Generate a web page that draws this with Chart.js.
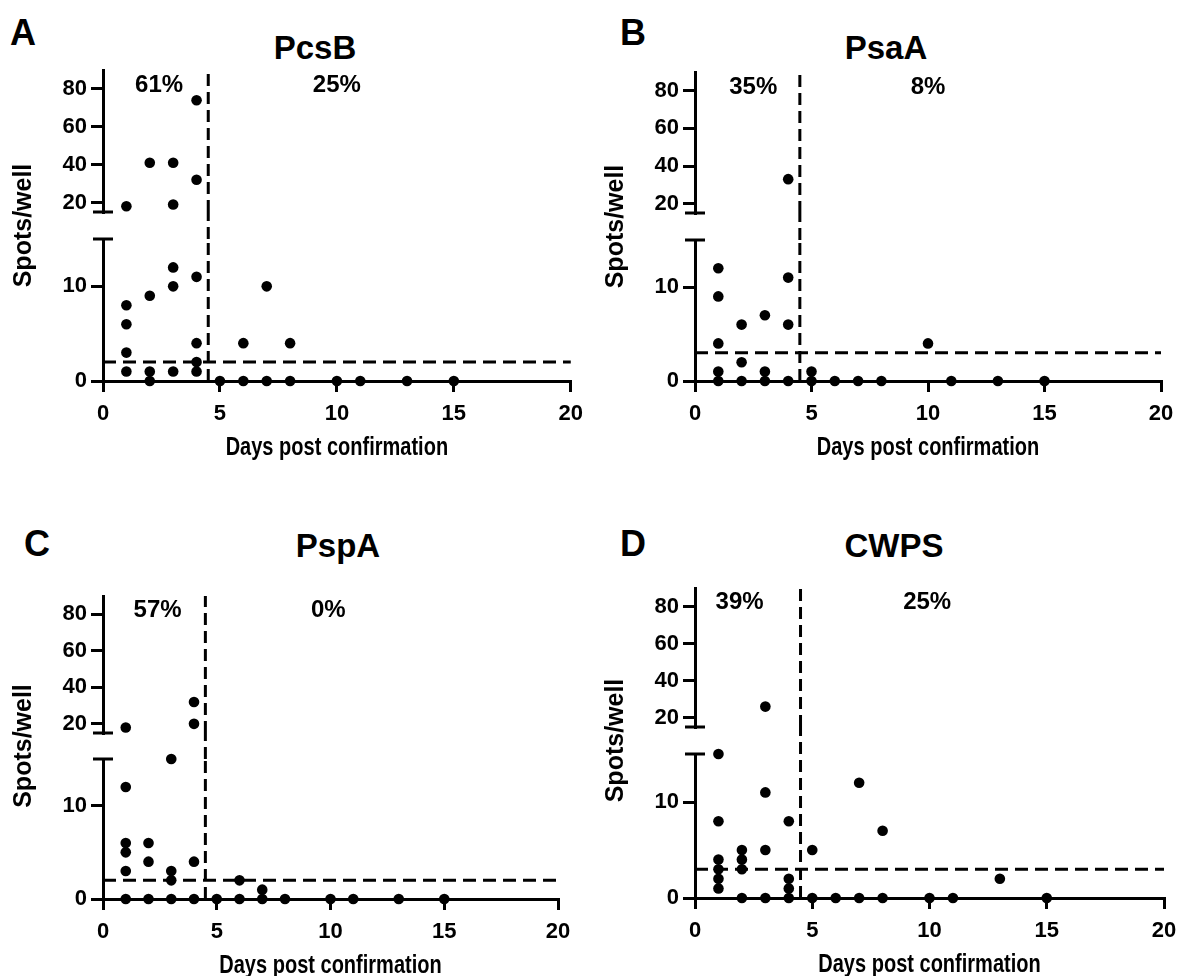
<!DOCTYPE html>
<html>
<head>
<meta charset="utf-8">
<script src="https://cdn.jsdelivr.net/npm/chart.js@4.4.1/dist/chart.umd.min.js"></script>
<style>
  html, body { margin: 0; padding: 0; background: #fff; overflow: hidden; }
  body { width: 1189px; height: 976px; position: relative; font-family: Arial, "Liberation Sans", sans-serif; }
  canvas { position: absolute; }
  .lbl { position: absolute; font-weight: bold; line-height: 1; white-space: nowrap; transform: translate(-50%, -50%); color: #000; }
</style>
</head>
<body>
<script>
// ---- data ----
const panelLetters = ['A', 'B', 'C', 'D'];
const panelTitles = ['PcsB', 'PsaA', 'PspA', 'CWPS'];
const xTitle = 'Days post confirmation';
const yTitle = 'Spots/well';

const xTicks = [0, 5, 10, 15, 20];
const lowTicks = [0, 10];
const highTicks = [20, 40, 60, 80];

const pcsbDays  = [1, 1, 1, 1, 1, 2, 2, 2, 2, 3, 3, 3, 3, 3, 4, 4, 4, 4, 4, 4, 5, 6, 6, 7, 7, 8, 8, 10, 11, 13, 15];
const pcsbSpots = [18, 8, 6, 3, 1, 41, 9, 1, 0, 41, 19, 12, 10, 1, 74, 32, 11, 4, 2, 1, 0, 4, 0, 10, 0, 4, 0, 0, 0, 0, 0];

const psaaDays  = [1, 1, 1, 1, 1, 2, 2, 2, 3, 3, 3, 4, 4, 4, 4, 5, 5, 6, 7, 8, 10, 11, 13, 15];
const psaaSpots = [12, 9, 4, 1, 0, 6, 2, 0, 7, 1, 0, 33, 11, 6, 0, 1, 0, 0, 0, 0, 4, 0, 0, 0];

const pspaDays  = [1, 1, 1, 1, 1, 1, 2, 2, 2, 3, 3, 3, 3, 4, 4, 4, 4, 5, 6, 6, 7, 7, 8, 10, 11, 13, 15];
const pspaSpots = [18, 12, 6, 5, 3, 0, 6, 4, 0, 15, 3, 2, 0, 32, 20, 4, 0, 0, 2, 0, 1, 0, 0, 0, 0, 0, 0];

const cwpsDays  = [1, 1, 1, 1, 1, 1, 2, 2, 2, 2, 3, 3, 3, 3, 4, 4, 4, 4, 5, 5, 6, 7, 7, 8, 8, 10, 11, 13, 15];
const cwpsSpots = [15, 8, 4, 3, 2, 1, 5, 4, 3, 0, 26, 11, 5, 0, 8, 2, 1, 0, 5, 0, 0, 12, 0, 7, 0, 0, 0, 2, 0];

const cutoffs = [2, 3, 2, 3];
const splitDay = 4.5;
const pctEarly = ['61%', '35%', '57%', '39%'];
const pctLate = ['25%', '8%', '0%', '25%'];

const allDays = [pcsbDays, psaaDays, pspaDays, cwpsDays];
const allSpots = [pcsbSpots, psaaSpots, pspaSpots, cwpsSpots];

// axis break: lower segment 0-15, upper 15-90
const lowMax = 15, highMax = 90;

// ---- layout (pixels) ----
const FONT = 'Arial, "Liberation Sans", sans-serif';
const layouts = [
  { cv: [0, 0, 592, 488],     plot: [103, 572, 70, 381],  seg: [142, 27, 142], letter: [23, 33],  title: [315, 47],  pctX: [2.4, 10] },
  { cv: [592, 0, 597, 488],   plot: [695, 1161, 72, 381], seg: [141, 27, 141], letter: [633, 33], title: [886, 47],  pctX: [2.5, 10] },
  { cv: [0, 488, 592, 500],   plot: [103, 558, 596, 899], seg: [137, 26, 140], letter: [37, 544], title: [338, 545], pctX: [2.4, 9.9] },
  { cv: [592, 488, 597, 500], plot: [695, 1164, 588, 898], seg: [139, 27, 144], letter: [633, 544], title: [894, 545], pctX: [1.9, 9.9] }
];
const xAxisH = 81;

function addText(txt, pos, size) {
  const d = document.createElement('div');
  d.className = 'lbl';
  d.textContent = txt;
  d.style.left = pos[0] + 'px';
  d.style.top = pos[1] + 'px';
  d.style.fontSize = size + 'px';
  document.body.appendChild(d);
}

const breakPlugin = {
  id: 'breakCaps',
  afterDraw(chart, args, opts) {
    const ctx = chart.ctx;
    const lo = chart.scales.yLow, hi = chart.scales.yHigh, x = chart.scales.x;
    const ax = lo.right;
    ctx.save();
    ctx.strokeStyle = '#000';
    ctx.lineWidth = 3;
    [lo.top, hi.bottom].forEach(y => {
      ctx.beginPath();
      ctx.moveTo(ax - 10, y);
      ctx.lineTo(ax + 10, y);
      ctx.stroke();
    });
    ctx.fillStyle = '#000';
    ctx.font = 'bold 24px ' + FONT;
    ctx.textAlign = 'center';
    ctx.textBaseline = 'middle';
    opts.labels.forEach(l => ctx.fillText(l.text, x.getPixelForValue(l.x), hi.getPixelForValue(l.y)));
    // x axis title, condensed like the original figure
    ctx.translate((x.left + x.right) / 2, x.bottom - 14);
    ctx.scale(0.77, 1);
    ctx.font = 'bold 26px ' + FONT;
    ctx.fillText(xTitle, 0, 0);
    ctx.restore();
  }
};

function makePanel(i) {
  const L = layouts[i];
  const [cl, ct, cw, ch] = L.cv;
  const [pl, pr, pt, pb] = L.plot;

  addText(panelLetters[i], L.letter, 36);
  addText(panelTitles[i], L.title, 33);

  const cv = document.createElement('canvas');
  cv.width = cw; cv.height = ch;
  cv.style.left = cl + 'px'; cv.style.top = ct + 'px';
  cv.style.width = cw + 'px'; cv.style.height = ch + 'px';
  document.body.appendChild(cv);

  const low = [], high = [];
  allDays[i].forEach((d, k) => {
    const v = allSpots[i][k];
    (v > lowMax ? high : low).push({ x: d, y: v });
  });

  const dots = { backgroundColor: '#000', borderColor: '#000', pointRadius: 5.3, borderWidth: 0, showLine: false, clip: false };
  const dash = (data, axis, pattern) => ({
    data: data, yAxisID: axis, showLine: true, borderColor: '#000', borderWidth: 3,
    borderDash: pattern, pointRadius: 0, fill: false, clip: false
  });

  const tickFont = { family: FONT, size: 22, weight: 'bold' };
  const tickGrid = { display: true, drawOnChartArea: false, drawTicks: true, tickLength: 12, tickWidth: 3, tickColor: '#000', color: '#000', lineWidth: 3 };
  const border = { display: true, width: 3, color: '#000' };
  const yTickOpts = { color: '#000', font: tickFont, padding: 4, autoSkip: false };
  const yW = pl - cl;

  new Chart(cv, {
    type: 'scatter',
    data: {
      datasets: [
        dash([{ x: 0, y: cutoffs[i] }, { x: 20, y: cutoffs[i] }], 'yLow', [13, 7]),
        dash([{ x: splitDay, y: lowMax }, { x: splitDay, y: highMax }], 'yHigh', [12, 6]),
        dash([{ x: splitDay, y: 0 }, { x: splitDay, y: 1 }], 'yGap', [12, 6]),
        dash([{ x: splitDay, y: 0 }, { x: splitDay, y: lowMax }], 'yLow', [12, 6]),
        Object.assign({ data: low, yAxisID: 'yLow' }, dots),
        Object.assign({ data: high, yAxisID: 'yHigh' }, dots)
      ]
    },
    options: {
      responsive: false,
      animation: false,
      events: [],
      devicePixelRatio: 1,
      layout: { padding: { left: 0, top: pt - ct, right: cl + cw - pr, bottom: ct + ch - pb - xAxisH } },
      plugins: {
        legend: { display: false },
        tooltip: { enabled: false },
        breakCaps: { labels: [ { text: pctEarly[i], x: L.pctX[0], y: 82 }, { text: pctLate[i], x: L.pctX[1], y: 82 } ] }
      },
      scales: {
        x: {
          type: 'linear', position: 'bottom', min: 0, max: 20,
          afterBuildTicks: s => { s.ticks = xTicks.map(v => ({ value: v })); },
          afterFit: s => { s.height = xAxisH; },
          border: border,
          grid: Object.assign({}, tickGrid, { tickLength: 11 }),
          ticks: { color: '#000', font: tickFont, padding: 9, maxRotation: 0, autoSkip: false },
          title: { display: false }
        },
        // listed bottom-up: the layout places the last stacked scale on top
        yLow: {
          type: 'linear', position: 'left', stack: 'y', stackWeight: L.seg[2], min: 0, max: lowMax,
          afterBuildTicks: s => { s.ticks = lowTicks.map(v => ({ value: v })); },
          afterFit: s => { s.width = yW; },
          border: border, grid: tickGrid, ticks: yTickOpts
        },
        yGap: {
          type: 'linear', position: 'left', stack: 'y', stackWeight: L.seg[1], min: 0, max: 1,
          afterFit: s => { s.width = yW; },
          border: { display: false }, grid: { display: false }, ticks: { display: false },
          title: { display: true, text: yTitle, color: '#000', font: { family: FONT, size: 25, weight: 'bold' }, padding: { top: 9, bottom: 0 } }
        },
        yHigh: {
          type: 'linear', position: 'left', stack: 'y', stackWeight: L.seg[0], min: lowMax, max: highMax,
          afterBuildTicks: s => { s.ticks = highTicks.map(v => ({ value: v })); },
          afterFit: s => { s.width = yW; },
          border: border, grid: tickGrid, ticks: yTickOpts
        }
      }
    },
    plugins: [breakPlugin]
  });
}

for (let i = 0; i < 4; i++) makePanel(i);
</script>
</body>
</html>
